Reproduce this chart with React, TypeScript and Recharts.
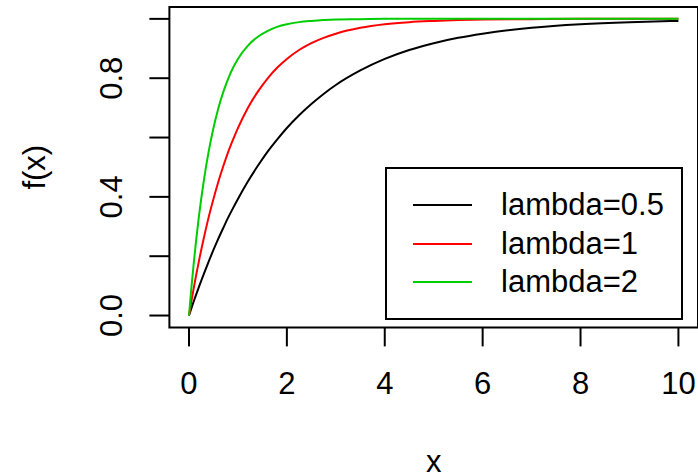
import { LineChart, Line, XAxis, YAxis, ReferenceArea, Legend, Label } from 'recharts'

// values
const xValues = [0, 0.05, 0.1, 0.15, 0.2, 0.3, 0.4, 0.5, 0.6, 0.7, 0.8, 0.9, 1, 1.2, 1.4, 1.6, 1.8, 2, 2.25, 2.5, 2.75, 3, 3.5, 4, 4.5, 5, 5.5, 6, 7, 8, 9, 10]
const lambda05 = [0, 0.025, 0.049, 0.072, 0.095, 0.139, 0.181, 0.221, 0.259, 0.295, 0.33, 0.362, 0.393, 0.451, 0.503, 0.551, 0.593, 0.632, 0.675, 0.713, 0.747, 0.777, 0.826, 0.865, 0.895, 0.918, 0.936, 0.95, 0.97, 0.982, 0.989, 0.993]
const lambda1 = [0, 0.049, 0.095, 0.139, 0.181, 0.259, 0.33, 0.393, 0.451, 0.503, 0.551, 0.593, 0.632, 0.699, 0.753, 0.798, 0.835, 0.865, 0.895, 0.918, 0.936, 0.95, 0.97, 0.982, 0.989, 0.993, 0.996, 0.998, 0.999, 1, 1, 1]
const lambda2 = [0, 0.095, 0.181, 0.259, 0.33, 0.451, 0.551, 0.632, 0.699, 0.753, 0.798, 0.835, 0.865, 0.909, 0.939, 0.959, 0.973, 0.982, 0.989, 0.993, 0.996, 0.998, 0.999, 1, 1, 1, 1, 1, 1, 1, 1, 1]

const seriesNames = ['lambda=0.5', 'lambda=1', 'lambda=2']
const seriesColors = ['#000000', '#FF0000', '#00CD00']

const xTicks = [0, 2, 4, 6, 8, 10]
const yTicks = [0, 0.2, 0.4, 0.6, 0.8, 1]
const yTickLabels = ['0.0', '', '0.4', '', '0.8', '']

const data = xValues.map((x, i) => ({ x, l05: lambda05[i], l1: lambda1[i], l2: lambda2[i] }))

const FONT = '"Liberation Sans", Arial, Helvetica, sans-serif'
const FS = 31

function XTick({ x, y, payload }: any) {
  return (
    <text x={x} y={y + 48} textAnchor="middle" fontSize={FS} fontFamily={FONT} fill="#000">
      {String(payload.value)}
    </text>
  )
}

function YTick({ x, y, payload }: any) {
  const label = yTickLabels[yTicks.indexOf(payload.value)]
  if (!label) return <g />
  const tx = x - 27
  return (
    <text x={tx} y={y} transform={`rotate(-90, ${tx}, ${y})`} textAnchor="middle" fontSize={FS} fontFamily={FONT} fill="#000">
      {label}
    </text>
  )
}

function LegendBox() {
  return (
    <div
      style={{
        position: 'relative',
        width: 298,
        height: 153,
        border: '2px solid #000',
        boxSizing: 'border-box',
        background: '#fff',
        fontFamily: FONT,
        fontSize: FS,
        color: '#000',
      }}
    >
      {seriesNames.map((name, i) => (
        <div
          key={name}
          style={{ position: 'absolute', left: 26, top: 20 + i * 38.5, height: 32, display: 'flex', alignItems: 'center' }}
        >
          <div style={{ width: 59, height: 2, background: seriesColors[i] }} />
          <span style={{ marginLeft: 29, lineHeight: '32px', whiteSpace: 'nowrap' }}>{name}</span>
        </div>
      ))}
    </div>
  )
}

export default function App() {
  return (
    <div style={{ position: 'fixed', left: 0, top: 0, width: 698, height: 476, background: '#fff', overflow: 'hidden' }}>
      <LineChart width={698} height={476} data={data} margin={{ top: 7, right: 0, bottom: 0, left: 0 }}>
        <XAxis
          dataKey="x"
          type="number"
          domain={[-0.4, 10.4]}
          ticks={xTicks}
          allowDataOverflow
          height={148.6}
          axisLine={false}
          tickLine={{ stroke: '#000', strokeWidth: 2 }}
          tickSize={19}
          tickMargin={0}
          tick={<XTick />}
          interval={0}
        >
          <Label
            content={({ viewBox }: any) => (
              <text x={viewBox.x + viewBox.width / 2} y={viewBox.y + 145} textAnchor="middle" fontSize={FS} fontFamily={FONT} fill="#000">
                x
              </text>
            )}
          />
        </XAxis>
        <YAxis
          type="number"
          domain={[-0.04, 1.04]}
          ticks={yTicks}
          allowDataOverflow
          width={169.4}
          axisLine={false}
          tickLine={{ stroke: '#000', strokeWidth: 2 }}
          tickSize={20}
          tickMargin={0}
          tick={<YTick />}
          interval={0}
        >
          <Label
            content={({ viewBox }: any) => {
              const cy = viewBox.y + viewBox.height / 2
              return (
                <text x={45} y={cy} transform={`rotate(-90, 45, ${cy})`} textAnchor="middle" fontSize={FS} fontFamily={FONT} fill="#000">
                  f(x)
                </text>
              )
            }}
          />
        </YAxis>
        <ReferenceArea x1={-0.4} x2={10.4} y1={-0.04} y2={1.04} fill="none" stroke="#000" strokeWidth={2} ifOverflow="visible" />
        <Line type="monotone" dataKey="l05" name={seriesNames[0]} stroke={seriesColors[0]} strokeWidth={2} dot={false} isAnimationActive={false} />
        <Line type="monotone" dataKey="l1" name={seriesNames[1]} stroke={seriesColors[1]} strokeWidth={2} dot={false} isAnimationActive={false} />
        <Line type="monotone" dataKey="l2" name={seriesNames[2]} stroke={seriesColors[2]} strokeWidth={2} dot={false} isAnimationActive={false} />
        <Legend
          layout="horizontal"
          verticalAlign="middle"
          content={<LegendBox />}
          wrapperStyle={{ left: 385, top: 167, width: 298, height: 153 }}
        />
      </LineChart>
    </div>
  )
}
